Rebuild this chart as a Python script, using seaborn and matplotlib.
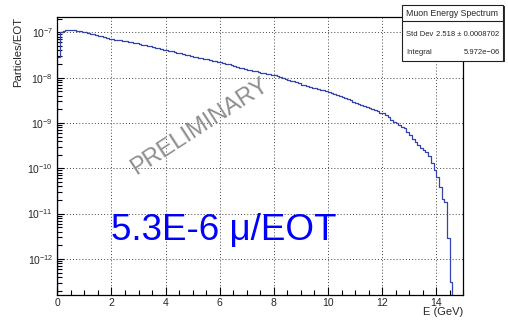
import numpy as np
import pandas as pd
import matplotlib
matplotlib.use("Agg")
import matplotlib.pyplot as plt
import seaborn as sns
from matplotlib.ticker import MultipleLocator, LogLocator, NullFormatter, FixedLocator
from matplotlib.patches import Rectangle
from matplotlib.lines import Line2D

sns.set_theme(style="ticks")
plt.rcParams["font.family"] = ["Liberation Sans", "DejaVu Sans"]
plt.rcParams["mathtext.fontset"] = "custom"
plt.rcParams["mathtext.rm"] = "Liberation Sans"
plt.rcParams["mathtext.it"] = "Liberation Sans:italic"
plt.rcParams["mathtext.bf"] = "Liberation Sans:bold"

# Muon energy spectrum, 0.1 GeV bins starting at 0 GeV (log10 of particles/EOT)
bin_width = 0.1
log10_particles_per_eot = [
    -7.54, -7.00, -6.97, -6.95, -6.945, -6.95, -6.96, -6.965, -6.98, -6.99,
    -7.00, -7.02, -7.03, -7.04, -7.06, -7.075, -7.085, -7.11, -7.125, -7.14,
    -7.15, -7.16, -7.165, -7.18, -7.19, -7.195, -7.21, -7.22, -7.23, -7.245,
    -7.255, -7.27, -7.285, -7.295, -7.31, -7.325, -7.34, -7.35, -7.37, -7.38,
    -7.39, -7.405, -7.42, -7.435, -7.45, -7.465, -7.475, -7.495, -7.51, -7.53,
    -7.54, -7.55, -7.565, -7.575, -7.59, -7.60, -7.615, -7.625, -7.64, -7.655,
    -7.665, -7.68, -7.70, -7.71, -7.73, -7.745, -7.76, -7.78, -7.795, -7.81,
    -7.825, -7.84, -7.85, -7.865, -7.88, -7.89, -7.90, -7.91, -7.92, -7.935,
    -7.945, -7.965, -7.985, -8.005, -8.02, -8.045, -8.065, -8.08, -8.105, -8.125,
    -8.16, -8.17, -8.19, -8.205, -8.22, -8.235, -8.25, -8.265, -8.28, -8.30,
    -8.315, -8.34, -8.36, -8.385, -8.405, -8.43, -8.455, -8.48, -8.505, -8.53,
    -8.55, -8.575, -8.60, -8.62, -8.645, -8.68, -8.70, -8.72, -8.745, -8.77,
    -8.79, -8.83, -8.88, -8.93, -8.98, -9.01, -9.05, -9.08, -9.12, -9.19,
    -9.27, -9.35, -9.42, -9.48, -9.55, -9.60, -9.65, -9.74, -9.88, -10.04,
    -10.19, -10.41, -10.67, -10.74, -11.53, -12.51,
]
x_range = (0, 15)
y_range = (1.6e-13, 2.14e-7)
y_major_ticks = [1e-12, 1e-11, 1e-10, 1e-9, 1e-8, 1e-7]

stats_title = "Muon Energy Spectrum"
stats_rows = [("Std Dev", "2.518 \u00b1 0.0008702"), ("Integral", "5.972e\u221206")]
rate_label = "5.3E-6 \u03bc/EOT"
watermark = "PRELIMINARY"

W, H = 508, 320
n_bins = len(log10_particles_per_eot)
df = pd.DataFrame({
    "E": (np.arange(n_bins) + 0.5) * bin_width,
    "w": 10.0 ** np.array(log10_particles_per_eot),
})
# binning spans one empty bin below 0 and empty bins up to 15 GeV
edges = [round(i * bin_width, 6) for i in range(-1, int(round(x_range[1] / bin_width)) + 1)]

fig = plt.figure(figsize=(W / 100, H / 100), dpi=100)
fig.patch.set_facecolor("white")
ax = fig.add_axes([57.3 / W, 1 - 295 / H, (463.3 - 57.3) / W, (295 - 17.3) / H])
ax.set_facecolor("white")
ax.set_yscale("log")

sns.histplot(data=df, x="E", weights="w", bins=edges, element="step",
             fill=False, color="#3344aa", linewidth=0.9, ax=ax)

ax.set_xlim(*x_range)
ax.set_ylim(*y_range)

ax.xaxis.set_major_locator(MultipleLocator(2))
ax.xaxis.set_minor_locator(MultipleLocator(0.5))
ax.yaxis.set_major_locator(FixedLocator(y_major_ticks))
ax.yaxis.set_minor_locator(LogLocator(base=10, subs=np.arange(2, 10), numticks=20))
ax.yaxis.set_minor_formatter(NullFormatter())

ax.tick_params(which="both", direction="in", top=False, right=False,
               color="black", labelsize=7.5, width=0.8)
ax.tick_params(which="major", length=6, pad=3)
ax.tick_params(axis="x", which="major", pad=2)
ax.tick_params(which="minor", length=3.5)
ax.tick_params(axis="y", which="major", length=5)

for s in ax.spines.values():
    s.set_color("black")
    s.set_linewidth(0.9)

ax.grid(True, which="major", linestyle=(0, (1, 2.2)), color="#444444", linewidth=0.7)
ax.set_axisbelow(True)

ax.set_xlabel("E (GeV)", fontsize=8.0, ha="right")
ax.xaxis.set_label_coords(1.0, -0.044)
ax.set_ylabel("Particles/EOT", fontsize=8.2, ha="right")
ax.yaxis.set_label_coords(-0.085, 1.0)

# watermark and rate annotation
fig.text(200 / W, 1 - 127 / H, watermark, rotation=33, color="#8e8e8e",
         fontsize=17, ha="center", va="center", rotation_mode="anchor")
fig.text(111 / W, 1 - 240 / H, rate_label, color="#0000ff", fontsize=26.5,
         ha="left", va="baseline")

# statistics box
def fx(px):
    return px / W


def fy(py):
    return 1 - py / H


bx0, by0, bx1, by1 = 402, 5, 503, 60.7
shadow = Rectangle((fx(bx0 + 1.5), fy(by1 + 1.5)), fx(bx1) - fx(bx0), fy(by0) - fy(by1),
                   transform=fig.transFigure, facecolor="#333333", edgecolor="none", zorder=10)
box = Rectangle((fx(bx0), fy(by1)), fx(bx1) - fx(bx0), fy(by0) - fy(by1),
                transform=fig.transFigure, facecolor="white", edgecolor="#222222",
                linewidth=0.8, zorder=11)
fig.add_artist(shadow)
fig.add_artist(box)
fig.add_artist(Line2D([fx(bx0), fx(bx1)], [fy(20.7), fy(20.7)], transform=fig.transFigure,
                      color="#222222", linewidth=0.8, zorder=12))
fig.text(fx(452.5), fy(13.5), stats_title, fontsize=6.3, ha="center", va="center", zorder=13)
for (name, val), ty in zip(stats_rows, [34, 52]):
    fig.text(fx(406.5), fy(ty), name, fontsize=5.5, ha="left", va="center", zorder=13)
    fig.text(fx(499.5), fy(ty), val, fontsize=5.5, ha="right", va="center", zorder=13)

fig.savefig("out.png", dpi=100)
